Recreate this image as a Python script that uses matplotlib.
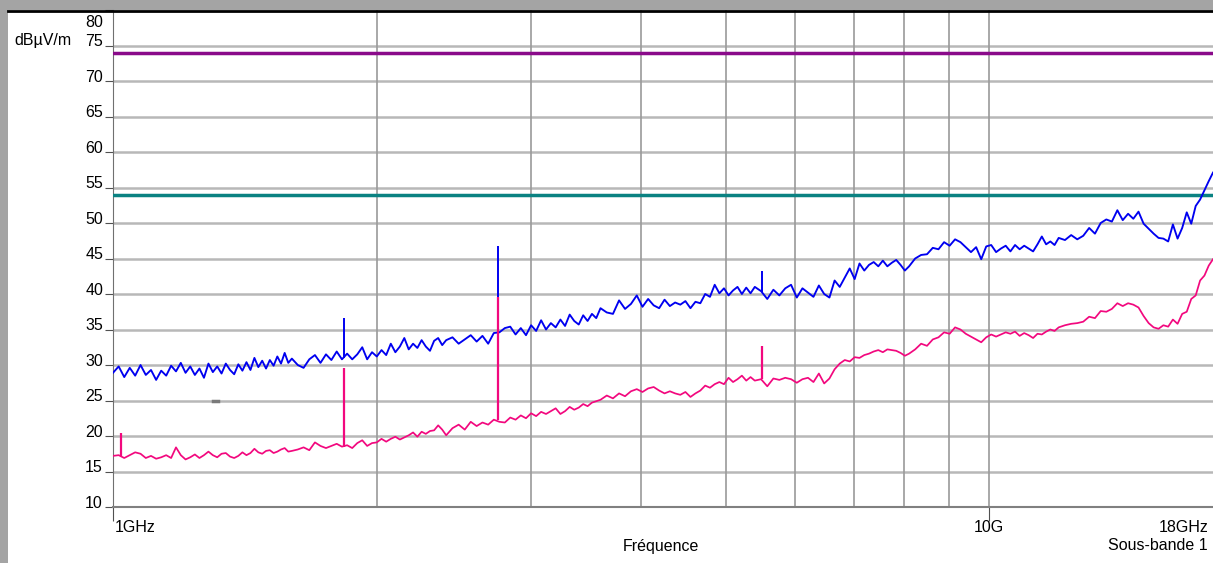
import numpy as np
import matplotlib
matplotlib.use("Agg")
import matplotlib.pyplot as plt
import matplotlib.transforms as mtransforms
from matplotlib.lines import Line2D
from matplotlib.patches import Rectangle

plt.rcParams['font.family'] = ['Liberation Sans', 'DejaVu Sans']

# ---- data (GHz / dBµV/m) ----
freq = [
    1.000, 1.015, 1.030, 1.045, 1.060, 1.075, 1.090, 1.105, 1.120, 1.135,
    1.150, 1.165, 1.180, 1.195, 1.210, 1.225, 1.240, 1.255, 1.270, 1.285,
    1.300, 1.315, 1.330, 1.345, 1.360, 1.375, 1.390, 1.405, 1.420, 1.435,
    1.450, 1.465, 1.480, 1.495, 1.510, 1.525, 1.540, 1.555, 1.570, 1.585, 1.600,
    1.625, 1.650, 1.675, 1.700, 1.725, 1.750, 1.775, 1.800, 1.825, 1.850,
    1.875, 1.900, 1.925, 1.950, 1.975, 2.000, 2.025, 2.050, 2.075, 2.100,
    2.125, 2.150, 2.175, 2.200, 2.225, 2.250, 2.275, 2.300, 2.325, 2.350,
    2.375, 2.400,
    2.44, 2.48, 2.52, 2.56, 2.60, 2.64, 2.68, 2.72, 2.76, 2.80,
    2.84, 2.88, 2.92, 2.96, 3.00, 3.04, 3.08, 3.12, 3.16, 3.20,
    3.24, 3.28, 3.32, 3.36, 3.40, 3.44, 3.48, 3.52, 3.56, 3.60,
    3.66, 3.72, 3.78, 3.84, 3.90, 3.96, 4.02, 4.08, 4.14, 4.20,
    4.26, 4.32, 4.38, 4.44, 4.50, 4.56, 4.62, 4.68, 4.74, 4.80,
    4.86, 4.92, 4.98, 5.04, 5.10, 5.16, 5.22, 5.28, 5.34, 5.40,
    5.49, 5.58, 5.67, 5.76, 5.85, 5.94, 6.03, 6.12, 6.21, 6.30,
    6.39, 6.48, 6.57, 6.66, 6.75, 6.84, 6.93, 7.02, 7.11, 7.20,
    7.29, 7.38, 7.47, 7.56, 7.65, 7.74, 7.83, 7.92, 8.01, 8.10,
    8.23, 8.36, 8.49, 8.62, 8.75, 8.88, 9.01, 9.14, 9.27, 9.40,
    9.53, 9.66, 9.79, 9.92, 10.05, 10.18, 10.31, 10.44, 10.57, 10.70,
    10.83, 10.96, 11.09, 11.22, 11.35, 11.48, 11.61, 11.74, 11.87, 12.00,
    12.2, 12.4, 12.6, 12.8, 13.0, 13.2, 13.4, 13.6, 13.8, 14.0,
    14.2, 14.4, 14.6, 14.8, 15.0, 15.2, 15.4, 15.6, 15.8, 16.0,
    16.2, 16.4, 16.6, 16.8, 17.0, 17.2, 17.4, 17.6, 17.8, 18.0,
]

peak = [  # blue trace
    28.9, 29.8, 28.3, 29.6, 28.5, 30.0, 28.6, 29.3, 27.9, 29.2,
    28.5, 29.9, 29.1, 30.3, 28.9, 29.8, 28.6, 29.5, 28.2, 30.2,
    29.0, 29.8, 28.8, 30.2, 29.3, 28.7, 30.1, 29.2, 30.4, 29.3,
    31.0, 29.7, 30.6, 29.5, 30.7, 29.9, 31.2, 30.2, 31.7, 30.3, 30.9,
    30.0, 29.6, 30.8, 31.4, 30.3, 31.5, 30.7, 31.9, 30.8, 31.6,
    30.8, 31.5, 32.5, 30.8, 31.8, 31.2, 32.1, 31.4, 33.0, 31.8,
    32.6, 33.8, 32.2, 33.0, 32.4, 33.5, 32.6, 32.0, 33.4, 33.8,
    32.8, 33.5,
    33.9, 33.0, 33.6, 34.2, 33.3, 34.1, 33.0, 34.5, 34.6, 35.2,
    35.4, 34.3, 35.2, 34.2, 35.6, 34.8, 36.3, 35.0, 35.9, 35.3,
    36.4, 35.5, 37.1, 36.2, 35.7, 37.0, 36.2, 37.2, 36.6, 38.0,
    37.4, 37.2, 39.1, 37.9, 38.6, 39.8, 38.2, 39.3, 38.4, 38.0,
    39.2, 38.3, 38.8, 38.5, 39.0, 38.0, 38.9, 38.7, 40.0, 39.6,
    41.3, 40.1, 40.8, 39.8, 40.5, 41.0, 40.0, 40.9, 40.1, 41.0,
    40.4, 39.3, 40.6, 39.8, 40.8, 41.3, 39.5, 40.8, 40.2, 39.6,
    41.2, 40.0, 39.5, 41.9, 41.0, 42.3, 43.6, 42.1, 44.3, 43.3,
    44.1, 44.5, 43.9, 44.7, 43.9, 44.4, 44.8, 44.1, 43.3, 43.9,
    45.0, 45.5, 45.6, 46.5, 46.3, 47.3, 46.8, 47.7, 47.3, 46.6,
    45.9, 46.6, 44.9, 46.7, 46.9, 45.9, 46.4, 46.8, 46.0, 46.9,
    46.3, 46.8, 46.4, 46.0, 47.0, 48.1, 47.0, 47.4, 46.9, 47.9,
    47.6, 48.3, 47.7, 48.2, 49.3, 48.5, 50.0, 50.5, 50.2, 51.8,
    50.4, 51.3, 50.6, 51.6, 49.9, 49.2, 48.5, 47.9, 47.8, 47.4,
    49.8, 47.8, 49.3, 51.5, 49.9, 52.4, 53.3, 54.6, 55.9, 57.1,
]

average = [  # pink trace
    17.2, 17.3, 16.9, 17.3, 17.7, 17.5, 16.9, 17.2, 16.8, 17.0,
    17.3, 16.9, 18.4, 17.3, 16.7, 17.0, 17.4, 16.9, 17.3, 17.8,
    17.3, 17.0, 17.5, 17.6, 17.1, 16.9, 17.2, 17.7, 17.3, 17.6,
    18.2, 17.7, 17.5, 17.9, 18.0, 17.6, 17.8, 18.1, 18.3, 17.8, 17.9,
    18.1, 18.4, 18.0, 19.1, 18.6, 18.3, 18.6, 18.9, 18.5, 18.7,
    18.3, 19.0, 19.4, 18.6, 19.0, 19.1, 19.6, 19.2, 19.6, 19.9,
    19.5, 19.8, 20.1, 20.5, 19.9, 20.6, 20.3, 20.7, 20.8, 21.5,
    20.9, 20.1,
    21.1, 21.6, 20.9, 22.0, 21.4, 21.9, 21.6, 22.3, 22.0, 21.9,
    22.6, 22.3, 22.9, 22.5, 23.2, 22.8, 23.4, 23.1, 23.5, 23.9,
    23.1, 23.5, 24.1, 23.7, 24.0, 24.5, 24.2, 24.7, 24.9, 25.1,
    25.7, 25.3, 26.0, 25.6, 26.3, 26.6, 26.2, 26.7, 26.9, 26.4,
    26.0, 26.3, 26.0, 25.8, 26.2, 25.5, 26.0, 26.4, 27.1, 26.8,
    27.3, 27.6, 27.3, 28.2, 27.6, 28.0, 28.5, 27.8, 28.3, 27.8,
    28.0, 27.0, 28.1, 27.9, 28.2, 28.0, 27.5, 28.0, 28.2, 27.6,
    28.8, 27.4, 28.1, 29.4, 30.2, 30.7, 30.5, 31.1, 31.0, 31.4,
    31.6, 31.9, 32.1, 31.8, 32.2, 32.1, 32.0, 31.7, 31.3, 31.6,
    32.2, 33.0, 32.7, 33.6, 33.9, 34.6, 34.4, 35.3, 35.0, 34.4,
    34.0, 33.6, 33.2, 33.9, 34.3, 34.0, 34.3, 34.6, 34.4, 34.7,
    34.1, 34.5, 34.2, 33.8, 34.4, 34.3, 34.7, 35.0, 34.8, 35.3,
    35.6, 35.8, 35.9, 36.1, 36.8, 36.6, 37.6, 37.5, 37.9, 38.7,
    38.3, 38.7, 38.5, 38.1, 36.9, 35.9, 35.3, 35.1, 35.6, 35.4,
    36.4, 35.8, 37.2, 37.5, 39.3, 39.8, 41.9, 42.6, 44.0, 44.9,
]

# narrow spikes (frequency, trace level at the foot, top)
peak_spike_f = [1.834, 2.748, 5.50]
peak_spike_lo = [31.0, 34.8, 40.3]
peak_spike_hi = [36.6, 46.8, 43.2]
avg_spike_f = [1.021, 1.834, 2.748, 5.50]
avg_spike_lo = [17.2, 18.5, 22.3, 28.0]
avg_spike_hi = [20.4, 29.6, 39.6, 32.7]

limit_peak = 74.0
limit_avg = 54.0

y_ticks = [10, 15, 20, 25, 30, 35, 40, 45, 50, 55, 60, 65, 70, 75, 80]
grid_freqs = [2, 3, 4, 5, 6, 7, 8, 9, 10]

# ---- figure ----
W, H = 1213, 563
fig = plt.figure(figsize=(W / 100, H / 100), dpi=100)
fig.patch.set_facecolor('#a4a4a4')
fig.patches.append(Rectangle((8 / W, 0), 1 - 8 / W, 1 - 10 / H,
                             transform=fig.transFigure, facecolor='white',
                             edgecolor='none', zorder=-10))
fig.lines.append(Line2D([8 / W, 1], [1 - 10.5 / H, 1 - 10.5 / H],
                        transform=fig.transFigure, color='black', lw=2, zorder=10))

ax = fig.add_axes([113 / W, 1 - 507 / H, 1 - 113 / W, (507 - 10) / H])
ax.set_zorder(1)
ax.patch.set_alpha(0)
ax.set_xscale('log')
ax.set_xlim(1.0, 18.0)
ax.set_ylim(10, 80)

for y in y_ticks[1:-1]:
    ax.axhline(y, color='#b8b8b8', lw=1.8, zorder=1)
for f in grid_freqs:
    ax.axvline(f, color='#9a9a9a', lw=1.2, zorder=1)

ax.axhline(limit_peak, color='#8a0a8a', lw=2.5, zorder=3)
ax.axhline(limit_avg, color='#0a8282', lw=2.5, zorder=3)

ax.plot(freq, peak, color='#0000f0', lw=1.35, zorder=4)
ax.vlines(peak_spike_f, peak_spike_lo, peak_spike_hi, color='#0000f0', lw=1.4, zorder=4)
ax.plot(freq, average, color='#f2087e', lw=1.25, zorder=5)
ax.vlines(avg_spike_f, avg_spike_lo, avg_spike_hi, color='#f2087e', lw=1.6, zorder=5)
ax.plot([1.30, 1.318], [25, 25], color='#7a7a7a', lw=2.5, zorder=2)

for s in ['top', 'right']:
    ax.spines[s].set_visible(False)
ax.spines['left'].set_color('#707070')
ax.spines['bottom'].set_color('#808080')
ax.spines['bottom'].set_linewidth(1.5)

ax.set_yticks(y_ticks)
ax.tick_params(axis='y', length=6, color='#505050', labelleft=False)
ax.set_xticks([1, 10])
ax.xaxis.set_minor_locator(matplotlib.ticker.NullLocator())
ax.tick_params(axis='x', length=10, color='#505050', labelbottom=False)

fs = 11.5
ytrans = mtransforms.blended_transform_factory(fig.transFigure, ax.transData)
for y in y_ticks:
    yy = 78.3 if y == 80 else y + 0.55
    ax.text(103 / W, yy, str(y), transform=ytrans, ha='right', va='center',
            fontsize=fs, clip_on=False)
fig.text(14 / W, 1 - 40 / H, 'dBµV/m', ha='left', va='center', fontsize=fs)

xtrans = mtransforms.blended_transform_factory(ax.transData, fig.transFigure)
ylab = 1 - 527 / H
ax.text(1.005, ylab, '1GHz', transform=xtrans, ha='left', va='center', fontsize=fs, clip_on=False)
ax.text(10.0, ylab, '10G', transform=xtrans, ha='center', va='center', fontsize=fs, clip_on=False)
fig.text(1208 / W, ylab, '18GHz', ha='right', va='center', fontsize=fs)
fig.text(661 / W, 1 - 546 / H, 'Fréquence', ha='center', va='center', fontsize=fs)
fig.text(1208 / W, 1 - 546 / H, 'Sous-bande 1', ha='right', va='center', fontsize=fs)

fig.savefig('out.png', dpi=100, facecolor=fig.get_facecolor())
